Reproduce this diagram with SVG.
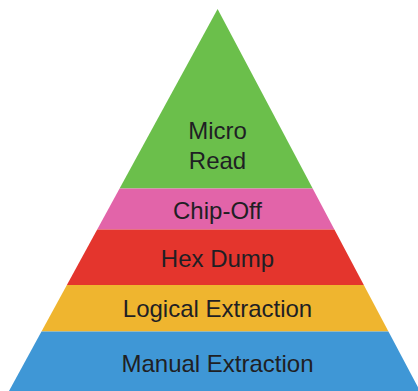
<svg xmlns="http://www.w3.org/2000/svg" width="418" height="391" viewBox="0 0 418 391">
<style>
.lbl{font-family:"Liberation Sans",Arial,sans-serif;font-size:24px;fill:#1f1f24;text-anchor:middle}
</style>
<rect width="418" height="391" fill="#ffffff"/>
<defs>
<clipPath id="pyr"><polygon points="217.6,9 9,391 420,391"/></clipPath>
</defs>
<g clip-path="url(#pyr)">
<g id="micro-read"><rect x="0" y="0" width="418" height="188.5" fill="#6bbf4b"/></g>
<g id="chip-off"><rect x="0" y="188.5" width="418" height="41" fill="#e264a9"/></g>
<g id="hex-dump"><rect x="0" y="229.5" width="418" height="55.5" fill="#e4352d"/></g>
<g id="logical-extraction"><rect x="0" y="285" width="418" height="46.5" fill="#efb52f"/></g>
<g id="manual-extraction"><rect x="0" y="331.5" width="418" height="60" fill="#3f97d6"/></g>
</g>
<g id="labels">
<text class="lbl" x="217.5" y="139">Micro</text>
<text class="lbl" x="217.5" y="168.5">Read</text>
<text class="lbl" x="217.5" y="218.5">Chip-Off</text>
<text class="lbl" x="217.5" y="266.5">Hex Dump</text>
<text class="lbl" x="217.5" y="316.7">Logical Extraction</text>
<text class="lbl" x="217.5" y="371.7">Manual Extraction</text>
</g>
<g id="connectors"/>
</svg>
